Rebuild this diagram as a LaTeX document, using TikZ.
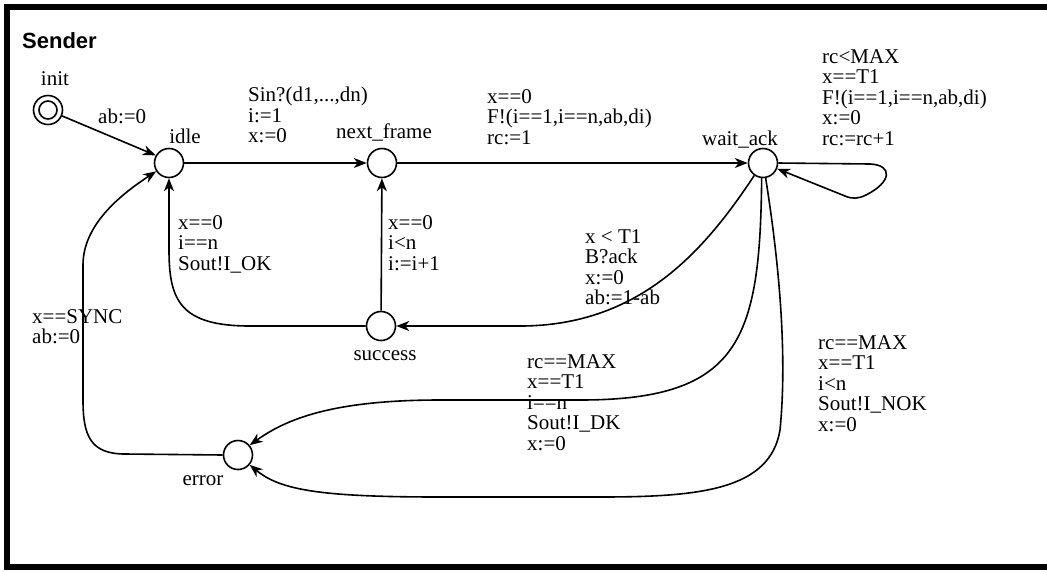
\documentclass[tikz,border=0pt]{standalone}
\usepackage{fontspec}
\setmainfont{Liberation Serif}
\setsansfont{Liberation Sans}
\usetikzlibrary{arrows.meta}
\newcommand{\lbl}{\fontsize{21}{20.6}\selectfont}
\tikzset{
  location/.style={circle, draw, line width=1.6pt, minimum size=29pt, inner sep=0pt},
  trans/.style={-{Stealth[length=13pt,width=10pt,inset=4pt]}, line width=1.6pt},
  guard/.style={anchor=north west, inner sep=0pt, align=left, font=\lbl},
  locname/.style={anchor=base, inner sep=0pt, font=\lbl}
}

\begin{document}
\begin{tikzpicture}[x=1pt, y=-1pt]
\useasboundingbox (0,0) rectangle (1047,571);
\clip (0,0) rectangle (1047,571);
% frame and title
\draw[line width=6pt] (7,7) rectangle (1060,567);
\node[anchor=base west, inner sep=0pt, font=\fontsize{22}{24}\selectfont\sffamily\bfseries] (title) at (22,48) {Sender};

% locations
\node[location] (init) at (48,110) {};
\node[circle, draw, line width=1.6pt, minimum size=18pt, inner sep=0pt] (initin) at (init) {};
\node[location] (idle) at (169,163) {};
\node[location] (next) at (382,163) {};
\node[location] (wait) at (763,163) {};
\node[location] (succ) at (381,326) {};
\node[location] (err) at (238,455) {};

% location names
\node[locname] (initname) at (55,85) {init};
\node[locname] (idlename) at (185,143) {idle};
\node[locname] (nextname) at (384,138) {next\_frame};
\node[locname] (waitname) at (740,145) {wait\_ack};
\node[locname] (succname) at (385,360) {success};
\node[locname] (errname) at (203,485) {error};

% transitions
\draw[trans] (init) -- (idle.150);
\draw[trans] (idle) -- (next);
\draw[trans] (next) -- (wait);
\draw[trans] (wait.east) -- (870,164) .. controls (893,165) and (892,182) .. (866,195) .. controls (858,199) and (852,199) .. (845,196) -- (wait.-22);
\draw[trans] (wait.-125) .. controls (705,250) and (640,326) .. (520,326) -- (succ.east);
\draw[trans] (succ) -- (next);
\draw[trans] (succ.west) -- (250,326) .. controls (180,326) and (169,300) .. (169,250) -- (idle.south);
\draw[trans] (err.west) -- (125,454) .. controls (90,454) and (83,435) .. (83,400) -- (83,265) .. controls (83,225) and (120,195) .. (idle.-147);
\draw[trans] (wait.-95) .. controls (760,340) and (740,400) .. (580,400) -- (440,400) .. controls (330,400) and (285,420) .. (err.40);
\draw[trans] (wait.-80) .. controls (785,300) and (785,380) .. (780,430) .. controls (770,490) and (700,497) .. (600,497) -- (440,497) .. controls (320,497) and (280,490) .. (err.-40);

% guards and updates
\node[guard] (g1) at (98,109) {ab:=0};
\node[guard] (g2) at (248,87) {Sin?(d1,...,dn)\\i:=1\\x:=0};
\node[guard] (g3) at (487,89) {x==0\\F!(i==1,i==n,ab,di)\\rc:=1};
\node[guard] (g4) at (822,49) {rc<MAX\\x==T1\\F!(i==1,i==n,ab,di)\\x:=0\\rc:=rc+1};
\node[guard] (g5) at (585,229) {x < T1\\B?ack\\x:=0\\ab:=1-ab};
\node[guard] (g6) at (178,215) {x==0\\i==n\\Sout!I\_OK};
\node[guard] (g7) at (388,215) {x==0\\i<n\\i:=i+1};
\node[guard] (g8) at (32,309) {x==SYNC\\ab:=0};
\node[guard] (g9) at (527,354) {rc==MAX\\x==T1\\i==n\\Sout!I\_DK\\x:=0};
\node[guard] (g10) at (818,335) {rc==MAX\\x==T1\\i<n\\Sout!I\_NOK\\x:=0};
\end{tikzpicture}
\end{document}
